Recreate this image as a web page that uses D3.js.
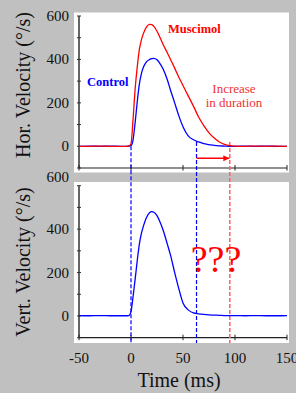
<!DOCTYPE html>
<html>
<head>
<meta charset="utf-8">
<script src="https://cdn.jsdelivr.net/npm/d3@7"></script>
<style>
  body { margin: 0; background: #c0c0c0; }
  svg { display: block; font-family: "Liberation Serif", "Times New Roman", serif; }
</style>
</head>
<body>
<div class="chart"></div>
<script>
// time samples (ms) and velocities (deg/s)
var time = [-50, -40, -30, -20, -10, -5, -2, 0, 2, 4, 6, 8, 10, 12, 15, 18, 20, 22, 25, 28, 31, 35, 38, 42, 46, 50, 55, 60, 65, 70, 75, 80, 85, 90, 95, 100, 110, 120, 130, 140, 150];
var horControl = [0, 1, 0, 1, 0, 0, 1, 3, 30, 110, 205, 285, 335, 365, 390, 400, 404, 405, 398, 380, 355, 305, 258, 200, 140, 90, 48, 30, 20, 12, 8, 4, 2, 1, 0, 0, 1, 0, 1, 0, 0];
var horMuscimol = [0, 0, 1, 0, 0, 0, 2, 12, 125, 265, 365, 445, 490, 520, 550, 561, 560, 552, 530, 500, 468, 430, 400, 360, 318, 280, 232, 185, 135, 95, 62, 38, 20, 9, 3, 1, 0, 1, 0, 1, 0];
var vertControl = [2, 1, 2, 1, 1, 1, 2, 20, 90, 170, 255, 330, 380, 415, 455, 477, 481, 478, 462, 432, 394, 330, 280, 200, 125, 60, 28, 14, 10, 7, 5, 4, 3, 2, 2, 2, 1, 2, 1, 1, 2];

var xTicks = [-50, 0, 50, 100, 150];
var yTicks = [0, 200, 400, 600];
var yMinor = [-100, 100, 300, 500];
var markers = [0, 63, 95]; // saccade onset, control end, muscimol end

var svgWidth = 296, svgHeight = 393;

var svg = d3.select(".chart").append("svg")
  .attr("width", svgWidth)
  .attr("height", svgHeight);

var x = d3.scaleLinear().domain([-50, 150]).range([79, 287]);
var yTop = d3.scaleLinear().domain([-100, 600]).range([168, 16]);
var yBot = d3.scaleLinear().domain([-100, 600]).range([337.7, 185.7]);

// white panels
svg.append("rect").attr("x", 74).attr("y", 12.5).attr("width", 215).attr("height", 160).attr("fill", "#fff");
svg.append("rect").attr("x", 74).attr("y", 182).attr("width", 215).attr("height", 161).attr("fill", "#fff");

function drawAxes(y, isBottom) {
  var g = svg.append("g");
  g.append("line").attr("x1", x(-50)).attr("x2", x(-50)).attr("y1", y(600)).attr("y2", y(-100))
    .attr("stroke", "#333").attr("stroke-width", 1.5);
  g.append("line").attr("x1", x(-50)).attr("x2", x(150)).attr("y1", y(-100)).attr("y2", y(-100))
    .attr("stroke", "#222").attr("stroke-width", 1.2);
  yTicks.concat(yMinor).forEach(function (v) {
    g.append("line").attr("x1", x(-50) - 2).attr("x2", x(-50) + 2).attr("y1", y(v)).attr("y2", y(v))
      .attr("stroke", "#333").attr("stroke-width", 1);
  });
  xTicks.forEach(function (t) {
    g.append("line").attr("x1", x(t)).attr("x2", x(t)).attr("y1", y(-100) - 3).attr("y2", y(-100) + 2.5)
      .attr("stroke", "#222").attr("stroke-width", 1);
  });
  yTicks.forEach(function (v) {
    // the top label of the lower panel sits a bit higher in the original
    var shift = (isBottom && v === 600) ? -9 : 0;
    g.append("text").attr("x", 69).attr("y", y(v) + 5 + shift)
      .attr("text-anchor", "end").attr("font-size", 15).attr("fill", "#111")
      .text(v);
  });
  if (isBottom) {
    xTicks.forEach(function (t) {
      g.append("text").attr("x", x(t)).attr("y", 363)
        .attr("text-anchor", "middle").attr("font-size", 15).attr("fill", "#111")
        .text(t);
    });
  }
}
drawAxes(yTop, false);
drawAxes(yBot, true);

// marker lines
svg.append("line").attr("x1", x(markers[0])).attr("x2", x(markers[0]))
  .attr("y1", yTop(0)).attr("y2", 343)
  .attr("stroke", "#0000ff").attr("stroke-width", 1.2).attr("stroke-dasharray", "4,2");
svg.append("line").attr("x1", x(markers[1])).attr("x2", x(markers[1]))
  .attr("y1", yTop(20)).attr("y2", 343)
  .attr("stroke", "#0000ff").attr("stroke-width", 1.2).attr("stroke-dasharray", "4,2");
svg.append("line").attr("x1", x(markers[2])).attr("x2", x(markers[2]))
  .attr("y1", yTop(20)).attr("y2", 343)
  .attr("stroke", "#ff6666").attr("stroke-width", 1.6).attr("stroke-dasharray", "4,2");

// curves
var lineTop = d3.line().x(function (d, i) { return x(time[i]); }).y(function (d) { return yTop(d); }).curve(d3.curveMonotoneX);
var lineBot = d3.line().x(function (d, i) { return x(time[i]); }).y(function (d) { return yBot(d); }).curve(d3.curveMonotoneX);

svg.append("path").datum(horControl).attr("d", lineTop)
  .attr("fill", "none").attr("stroke", "#0000ff").attr("stroke-width", 1.3);
svg.append("path").datum(horMuscimol).attr("d", lineTop)
  .attr("fill", "none").attr("stroke", "#ff0000").attr("stroke-width", 1.3);
svg.append("path").datum(vertControl).attr("d", lineBot)
  .attr("fill", "none").attr("stroke", "#0000ff").attr("stroke-width", 1.3);

// arrow
svg.append("defs").append("marker")
  .attr("id", "arrow").attr("viewBox", "0 0 10 10").attr("refX", 10).attr("refY", 5)
  .attr("markerWidth", 6).attr("markerHeight", 6).attr("markerUnits", "userSpaceOnUse")
  .attr("orient", "auto")
  .append("path").attr("d", "M0,0L10,5L0,10Z").attr("fill", "#ff0000");
svg.append("line").attr("x1", x(markers[1])).attr("x2", x(markers[2]) - 0.5)
  .attr("y1", 158.3).attr("y2", 158.3)
  .attr("stroke", "#ff0000").attr("stroke-width", 1.5).attr("marker-end", "url(#arrow)");

// annotations
svg.append("text").attr("x", 168).attr("y", 32.5).attr("font-size", 12.5).attr("font-weight", "bold")
  .attr("fill", "#ff0000").text("Muscimol");
svg.append("text").attr("x", 87).attr("y", 86).attr("font-size", 12.5).attr("font-weight", "bold")
  .attr("fill", "#0000ff").text("Control");
svg.append("text").attr("x", 234).attr("y", 93).attr("text-anchor", "middle").attr("font-size", 13)
  .attr("fill", "#ee3333").text("Increase");
svg.append("text").attr("x", 234).attr("y", 107).attr("text-anchor", "middle").attr("font-size", 13)
  .attr("fill", "#ee3333").text("in duration");
svg.append("text").attr("x", 216).attr("y", 272).attr("text-anchor", "middle").attr("font-size", 38)
  .attr("fill", "#ff0000").text("???");

// axis titles
svg.append("text").attr("transform", "translate(30, 85) rotate(-90)").attr("text-anchor", "middle")
  .attr("font-size", 20).attr("fill", "#111").text("Hor. Velocity (°/s)");
svg.append("text").attr("transform", "translate(30, 262) rotate(-90)").attr("text-anchor", "middle")
  .attr("font-size", 20).attr("fill", "#111").text("Vert. Velocity (°/s)");
svg.append("text").attr("x", 179).attr("y", 387).attr("text-anchor", "middle")
  .attr("font-size", 20).attr("fill", "#111").text("Time (ms)");
</script>
</body>
</html>
